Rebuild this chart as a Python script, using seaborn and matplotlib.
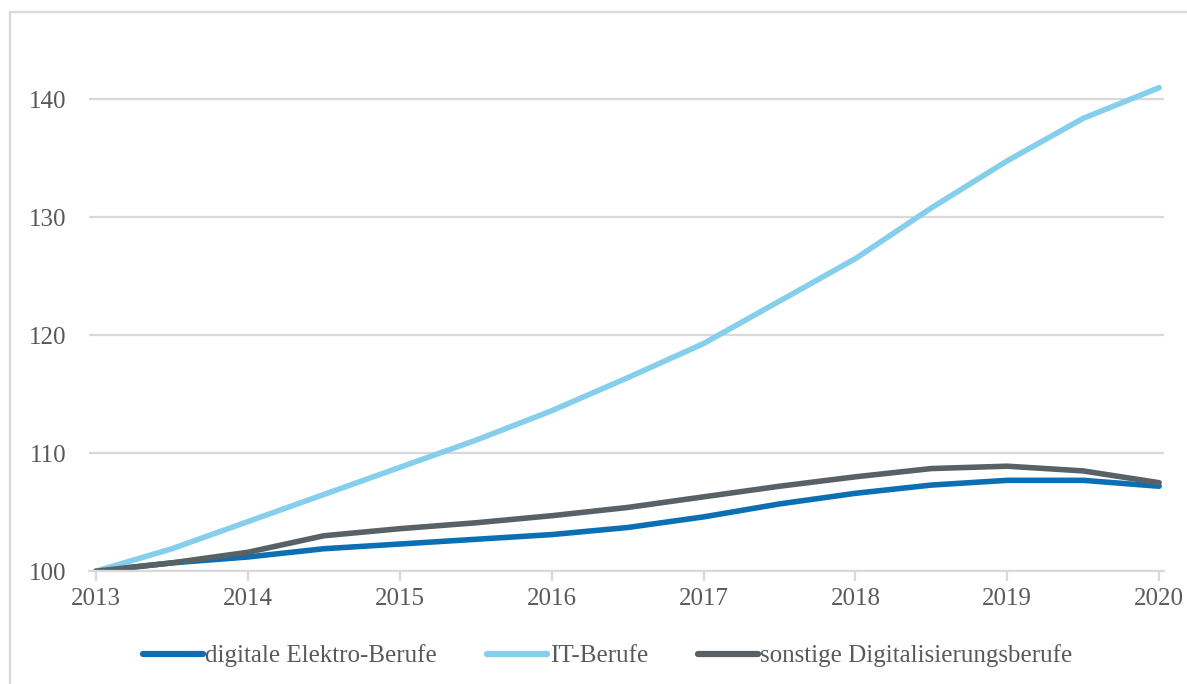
import seaborn as sns
import matplotlib.pyplot as plt
import pandas as pd
import numpy as np
from matplotlib.patches import Rectangle

# Index 2013 = 100, half-year steps
years = [2013, 2013.5, 2014, 2014.5, 2015, 2015.5, 2016, 2016.5,
         2017, 2017.5, 2018, 2018.5, 2019, 2019.5, 2020]
elektro = [100, 100.7, 101.2, 101.9, 102.3, 102.7, 103.1, 103.7,
           104.6, 105.7, 106.6, 107.3, 107.7, 107.7, 107.2]
it_berufe = [100, 101.9, 104.2, 106.5, 108.8, 111.1, 113.6, 116.4,
             119.3, 122.9, 126.5, 130.8, 134.8, 138.4, 141.0]
sonstige = [100, 100.7, 101.6, 103.0, 103.6, 104.1, 104.7, 105.4,
            106.3, 107.2, 108.0, 108.7, 108.9, 108.5, 107.5]
series_names = ['digitale Elektro-Berufe', 'IT-Berufe',
                'sonstige Digitalisierungsberufe']
tick_years = [2013, 2014, 2015, 2016, 2017, 2018, 2019, 2020]
y_ticks = [100, 110, 120, 130, 140]

df = pd.DataFrame({'Jahr': years * 3,
                   'Index': elektro + it_berufe + sonstige,
                   'Gruppe': np.repeat(series_names, len(years))})

sns.set_style('white')
plt.rcParams['font.family'] = ['Liberation Serif', 'DejaVu Serif']

fig = plt.figure(figsize=(11.87, 6.84), dpi=100)
ax = fig.add_axes([0.075, 0.165, 0.906, 0.793])

grid_col = '#d9d9d9'
text_col = '#595959'

sns.lineplot(data=df, x='Jahr', y='Index', hue='Gruppe',
             palette=['#0a70b3', '#85cfec', '#586165'],
             linewidth=4, ax=ax, legend=True)
for line in ax.get_lines():
    line.set_solid_capstyle('round')
    line.set_solid_joinstyle('round')

ax.set_xlim(2012.954, 2020.035)
ax.set_ylim(100, 146)
ax.set_xticks(tick_years)
ax.set_xticklabels([str(y) for y in tick_years])
ax.set_yticks(y_ticks)
ax.yaxis.grid(True, color=grid_col, linewidth=1.6)
ax.set_axisbelow(True)
for s in ['top', 'right', 'left']:
    ax.spines[s].set_visible(False)
ax.spines['bottom'].set_color(grid_col)
ax.spines['bottom'].set_linewidth(1.6)
ax.tick_params(axis='x', length=7, width=1.6, color=grid_col,
               labelsize=18, labelcolor=text_col, pad=5, direction='out',
               bottom=True)
ax.tick_params(axis='y', length=0, labelsize=18, labelcolor=text_col, pad=16)
ax.set_xlabel('')
ax.set_ylabel('')

handles, labels = ax.get_legend_handles_labels()
ax.get_legend().remove()
leg = fig.legend(handles, labels, loc='center', bbox_to_anchor=(0.512, 0.041),
                 ncol=3, frameon=False, fontsize=18, handlelength=2.4,
                 handletextpad=0.1, columnspacing=2.0)
for t in leg.get_texts():
    t.set_color(text_col)
for h in leg.get_lines():
    h.set_linewidth(4.5)
    h.set_solid_capstyle('round')

# light frame around the chart area
fig.add_artist(Rectangle((10 / 1187, -0.1), 1.2, 1.1 - 12 / 684,
                         transform=fig.transFigure, fill=False,
                         edgecolor=grid_col, linewidth=1.6))

plt.savefig('out.png', dpi=100)
